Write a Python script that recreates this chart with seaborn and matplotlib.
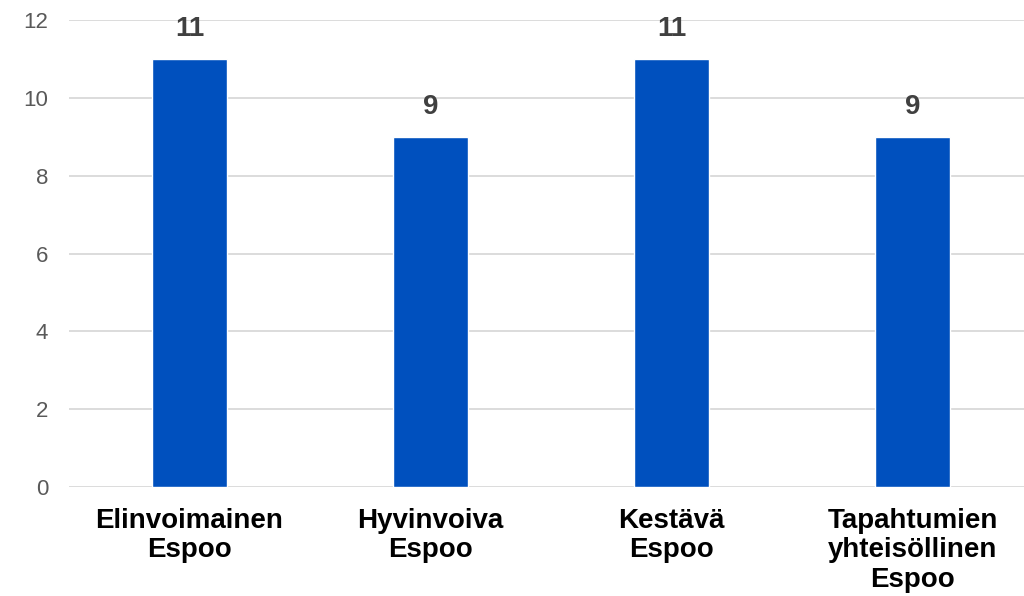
import pandas as pd
import seaborn as sns
import matplotlib.pyplot as plt

# Chart data
categories = ["Elinvoimainen\nEspoo", "Hyvinvoiva\nEspoo", "Kestävä\nEspoo",
              "Tapahtumien\nyhteisöllinen\nEspoo"]
values = [11, 9, 11, 9]
y_ticks = [0, 2, 4, 6, 8, 10, 12]

df = pd.DataFrame({"category": categories, "value": values})

sns.set_style("white")
plt.rcParams["font.family"] = ["Liberation Sans", "DejaVu Sans"]

fig = plt.figure(figsize=(10.24, 5.96), dpi=100)
ax = fig.add_axes([69 / 1024, 109 / 596, 964 / 1024, 467 / 596])

sns.barplot(data=df, x="category", y="value", color="#0050BE",
            width=0.31, saturation=1, ax=ax, zorder=3)

ax.set_xlim(-0.5, 3.5)
ax.set_ylim(0, 12)
ax.set_yticks(y_ticks)
ax.yaxis.grid(True, color="#D9D9D9", linewidth=1.3, zorder=0)
ax.set_axisbelow(True)
for s in ax.spines.values():
    s.set_visible(False)

ax.tick_params(axis="y", length=0, pad=15, labelsize=16, labelcolor="#595959")
ax.tick_params(axis="x", length=0, pad=15)
for lbl in ax.get_xticklabels():
    lbl.set_fontsize(20)
    lbl.set_fontweight("bold")
    lbl.set_color("black")
    lbl.set_linespacing(1.18)
    lbl.set_verticalalignment("top")

ax.set_xlabel("")
ax.set_ylabel("")

for i, v in enumerate(values):
    ax.annotate(str(v), (i, v), xytext=(0, 12), textcoords="offset points",
                ha="center", va="bottom", fontsize=20, fontweight="bold",
                color="#404040")

fig.savefig("out.png", dpi=100)
